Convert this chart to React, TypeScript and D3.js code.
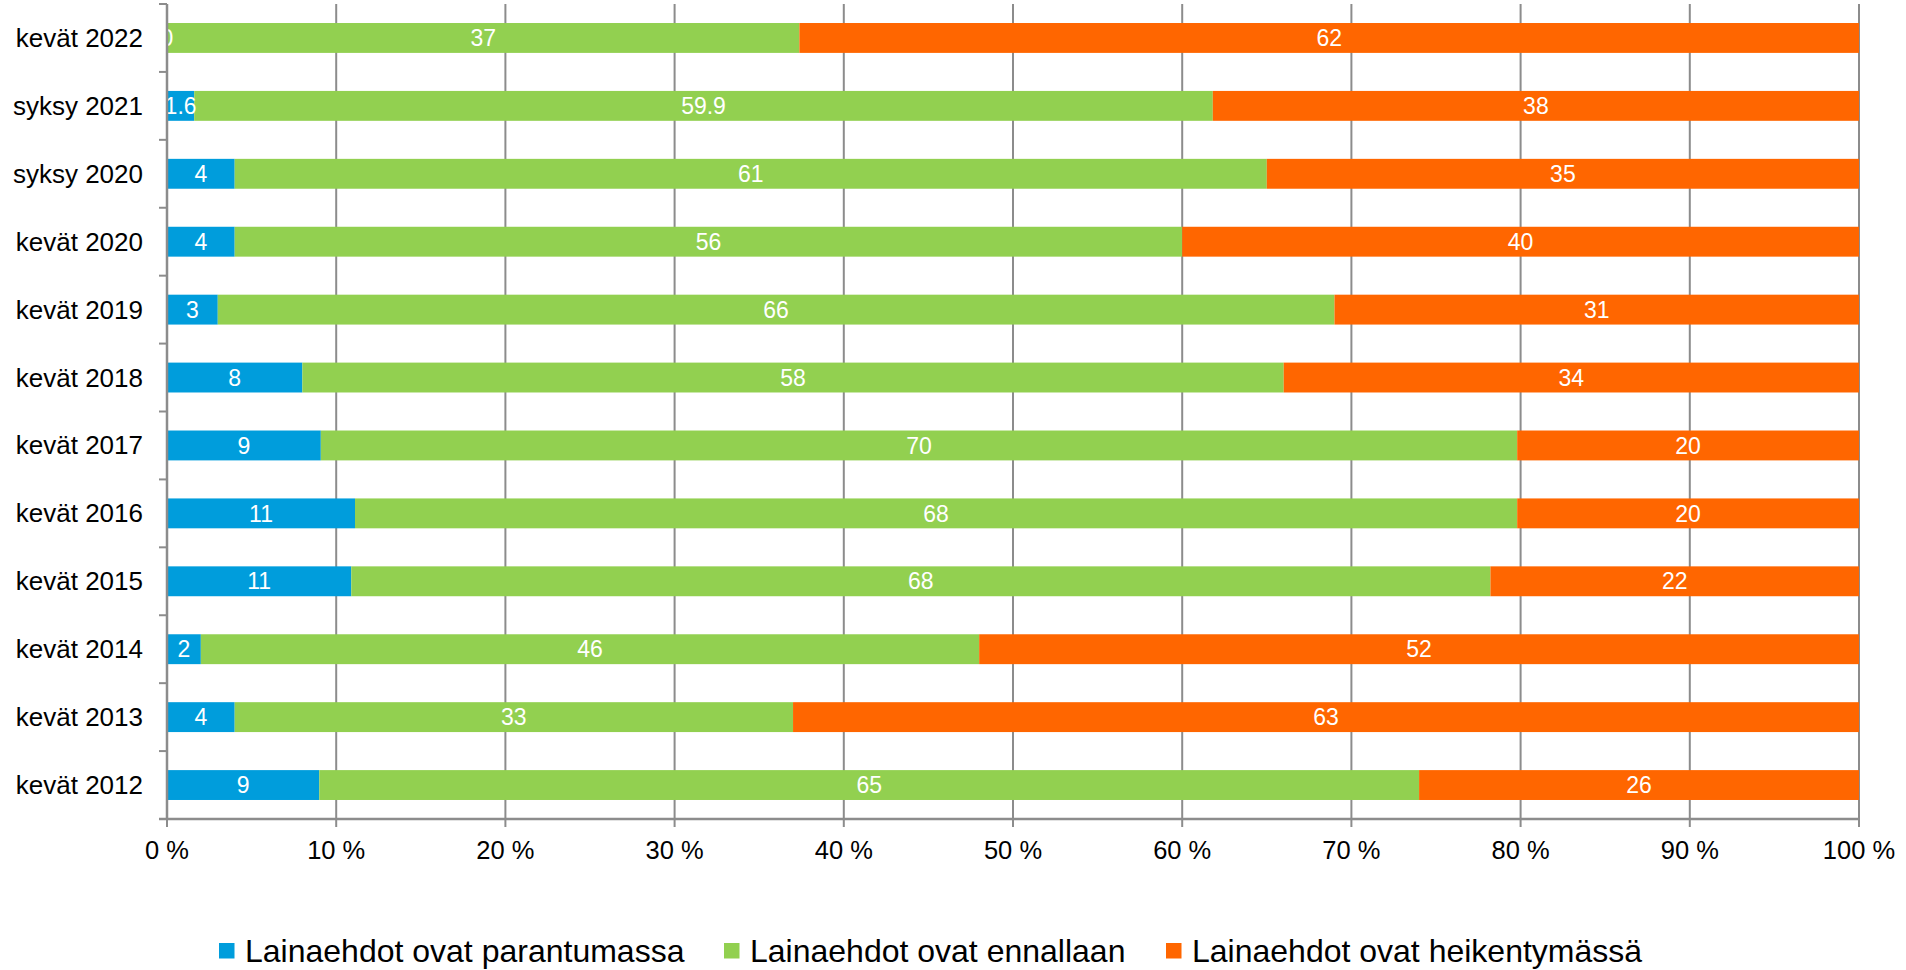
import React from "react";
import * as d3 from "d3";

// Survey rounds, top to bottom
const periods = [
  "kevät 2022",
  "syksy 2021",
  "syksy 2020",
  "kevät 2020",
  "kevät 2019",
  "kevät 2018",
  "kevät 2017",
  "kevät 2016",
  "kevät 2015",
  "kevät 2014",
  "kevät 2013",
  "kevät 2012",
];

// Share of answers per round (%)
const improving = [0, 1.6, 4, 4, 3, 8, 9, 11, 11, 2, 4, 9];
const unchanged = [37, 59.9, 61, 56, 66, 58, 70, 68, 68, 46, 33, 65];
const weakening = [62, 38, 35, 40, 31, 34, 20, 20, 22, 52, 63, 26];

const seriesNames = [
  "Lainaehdot ovat parantumassa",
  "Lainaehdot ovat ennallaan",
  "Lainaehdot ovat heikentymässä",
];
const seriesColors = ["#009ddc", "#92d050", "#ff6600"];

const xTicks = [0, 0.1, 0.2, 0.3, 0.4, 0.5, 0.6, 0.7, 0.8, 0.9, 1];

const W = 1906;
const H = 970;
const M = { left: 167, right: 1859, top: 4, bottom: 819 };
const FONT = "'Liberation Sans', Arial, sans-serif";
const GRID = "#8c8c8c";

type Row = { period: string; s0: number; s1: number; s2: number };

export default function App() {
  const rows: Row[] = periods.map((p, i) => ({
    period: p,
    s0: improving[i],
    s1: unchanged[i],
    s2: weakening[i],
  }));
  const keys = ["s0", "s1", "s2"] as const;
  const stacked = d3
    .stack<Row>()
    .keys(keys as unknown as string[])
    .offset(d3.stackOffsetExpand)(rows);

  const x = d3.scaleLinear().domain([0, 1]).range([M.left, M.right]);
  const y = d3
    .scaleBand<string>()
    .domain(periods)
    .range([M.top, M.bottom])
    .paddingInner(0.56)
    .paddingOuter(0.28);
  const step = y.step();
  const fmt = (v: number) => String(v);

  const legendX = [219, 724, 1166];

  return (
    <svg
      width={W}
      height={H}
      style={{ position: "absolute", left: 0, top: 0, background: "#fff" }}
      fontFamily={FONT}
    >
      <rect x={0} y={0} width={W} height={H} fill="#fff" />
      {/* vertical gridlines */}
      {xTicks.map((t) => (
        <line
          key={"g" + t}
          x1={x(t)}
          x2={x(t)}
          y1={M.top}
          y2={M.bottom + 8}
          stroke={GRID}
          strokeWidth={2}
        />
      ))}
      {/* category axis ticks */}
      {d3.range(periods.length + 1).map((i) => (
        <line
          key={"yt" + i}
          x1={M.left - 8}
          x2={M.left}
          y1={M.top + i * step}
          y2={M.top + i * step}
          stroke={GRID}
          strokeWidth={2}
        />
      ))}
      {/* bars */}
      {stacked.map((layer, si) =>
        layer.map((d) => {
          const y0 = y(d.data.period)!;
          return (
            <rect
              key={si + d.data.period}
              x={x(d[0])}
              y={y0}
              width={Math.max(0, x(d[1]) - x(d[0]))}
              height={y.bandwidth()}
              fill={seriesColors[si]}
            />
          );
        })
      )}
      {/* value labels */}
      {stacked.map((layer, si) =>
        layer.map((d) => {
          const cy = y(d.data.period)! + y.bandwidth() / 2;
          const v = d.data[keys[si]];
          return (
            <text
              key={"l" + si + d.data.period}
              x={(x(d[0]) + x(d[1])) / 2}
              y={cy + 8.2}
              textAnchor="middle"
              fontSize={23}
              fill="#fff"
            >
              {fmt(v)}
            </text>
          );
        })
      )}
      {/* axis lines */}
      <line x1={M.left} x2={M.left} y1={M.top} y2={M.bottom} stroke={GRID} strokeWidth={2.5} />
      <line x1={M.left - 8} x2={M.right} y1={M.bottom} y2={M.bottom} stroke={GRID} strokeWidth={2.5} />
      {/* category labels */}
      {periods.map((p) => (
        <text
          key={"c" + p}
          x={143}
          y={y(p)! + y.bandwidth() / 2 + 9}
          textAnchor="end"
          fontSize={26}
          fill="#000"
        >
          {p}
        </text>
      ))}
      {/* x tick labels */}
      {xTicks.map((t) => (
        <text
          key={"xt" + t}
          x={x(t)}
          y={859}
          textAnchor="middle"
          fontSize={25.5}
          fill="#000"
        >
          {Math.round(t * 100) + " %"}
        </text>
      ))}
      {/* legend */}
      {seriesNames.map((n, i) => (
        <g key={"lg" + i}>
          <rect x={legendX[i]} y={943} width={15.5} height={15.5} fill={seriesColors[i]} />
          <text x={legendX[i] + 26} y={962} fontSize={32} fill="#000">
            {n}
          </text>
        </g>
      ))}
    </svg>
  );
}
